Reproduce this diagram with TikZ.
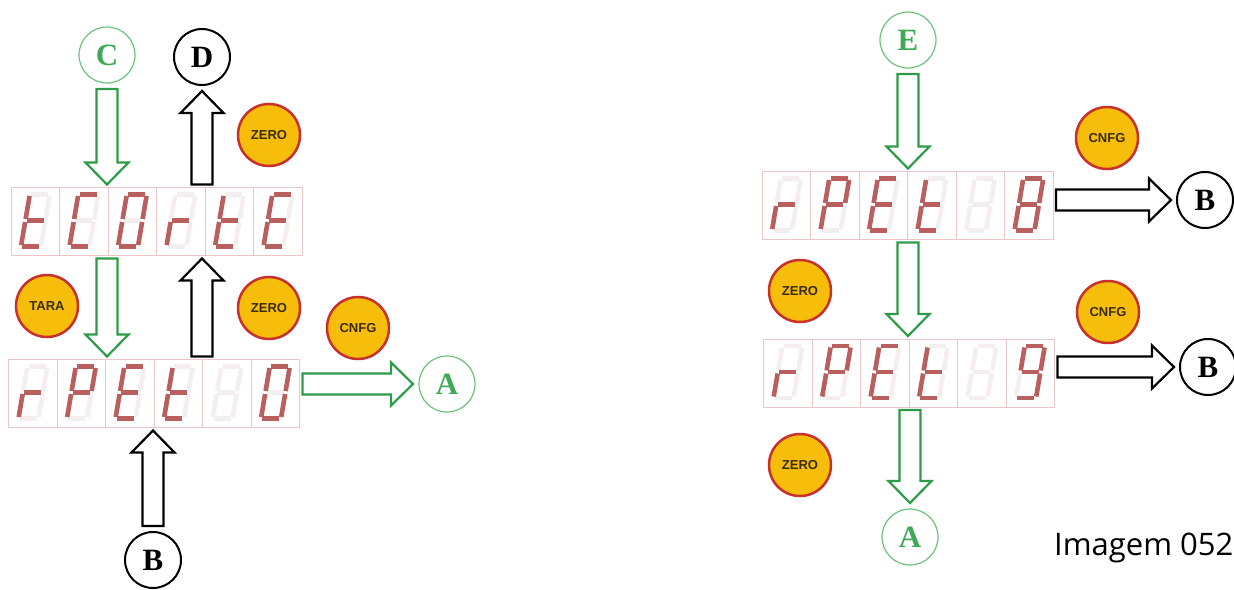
\documentclass[tikz,border=0pt]{standalone}
\usepackage{fontspec}
\usetikzlibrary{calc,positioning}
\newfontfamily\capfont{Open Sans}
\newfontfamily\btnfont{Liberation Sans}
\newfontfamily\letfont{Liberation Serif}
\definecolor{arrowgreen}{HTML}{2E9B48}
\definecolor{ringgreen}{HTML}{6CC27C}
\definecolor{lettergreen}{HTML}{3FA957}
\definecolor{segon}{HTML}{B9605F}
\definecolor{segoff}{HTML}{F5EEEE}
\definecolor{cellline}{HTML}{EBC6C6}
\definecolor{displine}{HTML}{E2AFAF}
\definecolor{btnfill}{HTML}{F6BD0A}
\definecolor{btnring}{HTML}{C8302C}
\definecolor{btntext}{HTML}{3A2C05}
\tikzset{
  display/.style={rectangle, draw=displine, line width=1pt,
    minimum width=291pt, minimum height=68pt, inner sep=0pt, outer sep=0pt},
  keybtn/.style={circle, draw=btnring, fill=btnfill, line width=2.5pt,
    minimum size=62pt, inner sep=0pt, text=btntext,
    font=\btnfont\bfseries\fontsize{13}{13}\selectfont},
  refcirc/.style={circle, draw=#1, line width=2pt, minimum size=56pt,
    inner sep=0pt, outer sep=3pt, text=#1,
    font=\letfont\bfseries\fontsize{31}{31}\selectfont},
  refcirc/.default=black,
  refgreen/.style={refcirc=ringgreen, line width=1.2pt, text=lettergreen},
  blockarrow/.style={draw=#1, fill=white, line width=2.2pt, line join=miter,
    to path={
      ($(\tikztostart)!3pt!(\tikztotarget)$) coordinate (bs)
      ($(\tikztotarget)!3pt!(\tikztostart)$) coordinate (bt)
      ($(bs)!10.5pt!90:(bt)$) -- ($(bt)!22pt!(bs)!10.5pt!90:(bt)$)
      -- ($(bt)!22pt!(bs)!21.5pt!90:(bt)$) -- (bt)
      -- ($(bt)!22pt!(bs)!21.5pt!-90:(bt)$) -- ($(bt)!22pt!(bs)!10.5pt!-90:(bt)$)
      -- ($(bs)!10.5pt!-90:(bt)$) -- cycle}},
  blockarrow/.default=black,
  % seven segment parts, cell 48.5 x 68
  seg a/.style={insert path={(21.5,7)--(38.5,7)}},
  seg b/.style={insert path={(40,8.5)--(40,31.5)}},
  seg c/.style={insert path={(40,34.5)--(40,57.5)}},
  seg d/.style={insert path={(21.5,59)--(38.5,59)}},
  seg e/.style={insert path={(20,34.5)--(20,57.5)}},
  seg f/.style={insert path={(20,8.5)--(20,31.5)}},
  seg g/.style={insert path={(21.5,33)--(38.5,33)}},
  seg none/.style={},
  seglit/.style={draw=segon, line width=4.6pt, line cap=butt},
  segdim/.style={draw=segoff, line width=4.6pt, line cap=butt},
  pics/segdigit/.style={code={
    \draw[cellline, line width=0.6pt] (0,0) rectangle (48.5,68);
    \begin{scope}[xslant=0.17]
      \foreach \s in {a,b,c,d,e,f,g} \path[segdim, seg \s];
      \edef\litlist{#1}
      \foreach \s in \litlist \path[seglit, seg \s];
    \end{scope}}},
}

\begin{document}
\begin{tikzpicture}[x=1pt, y=-1pt]
\useasboundingbox (0,0) rectangle (1234,589);
% left side
\node[display] (tcorte) at (156.5,221.5) {};
\node[display] (rpet0) at (154,393.5) {};
\node[refgreen] (C1) at (107,55) {C};
\node[refcirc] (D1) at (202,57) {D};
\node[keybtn] (zero1) at (269,135) {ZERO};
\node[keybtn] (tara) at (47,306) {TARA};
\node[keybtn] (zero2) at (269,308) {ZERO};
\node[keybtn] (cnfg1) at (358,328) {CNFG};
\node[refgreen] (A1) at (447,384) {A};
\node[refcirc] (B1) at (153,560) {B};
% right side
\node[display] (rpet8) at (907.5,205.5) {};
\node[display] (rpet9) at (909,373) {};
\node[refgreen] (E1) at (908,40) {E};
\node[keybtn] (cnfg2) at (1107,138) {CNFG};
\node[refcirc] (B2) at (1205,200) {B};
\node[keybtn] (zero3) at (800,291) {ZERO};
\node[keybtn] (cnfg3) at (1108,312) {CNFG};
\node[refcirc] (B3) at (1208,367) {B};
\node[keybtn] (zero4) at (800,465) {ZERO};
\node[refgreen] (A2) at (910,537) {A};
\node[font=\capfont\fontsize{31}{31}\selectfont, anchor=base west, inner sep=0pt] (caption) at (1054,555) {Imagem 052};

% display digits
\foreach \d [count=\i from 0] in {{d,e,f,g},{a,d,e,f},{a,b,c,d,e,f},{e,g},{d,e,f,g},{a,d,e,f,g}}
  \pic at ($(tcorte.north west)+(\i*48.5,0)$) {segdigit=\d};
\foreach \d [count=\i from 0] in {{e,g},{a,b,e,f,g},{a,d,e,f,g},{d,e,f,g},{none},{a,b,c,d,e,f}}
  \pic at ($(rpet0.north west)+(\i*48.5,0)$) {segdigit=\d};
\foreach \d [count=\i from 0] in {{e,g},{a,b,e,f,g},{a,d,e,f,g},{d,e,f,g},{none},{a,b,c,d,e,f,g}}
  \pic at ($(rpet8.north west)+(\i*48.5,0)$) {segdigit=\d};
\foreach \d [count=\i from 0] in {{e,g},{a,b,e,f,g},{a,d,e,f,g},{d,e,f,g},{none},{a,b,c,d,f,g}}
  \pic at ($(rpet9.north west)+(\i*48.5,0)$) {segdigit=\d};

% flow arrows
\draw[blockarrow=arrowgreen] (C1.south) to (tcorte.north -| C1);
\draw[blockarrow] (tcorte.north -| D1) to (D1.south);
\draw[blockarrow=arrowgreen] (tcorte.south -| C1) to (rpet0.north -| C1);
\draw[blockarrow] (rpet0.north -| D1) to (tcorte.south -| D1);
\draw[blockarrow=arrowgreen] (rpet0.east |- A1) to (A1.west);
\draw[blockarrow] (B1.north) to (rpet0.south -| B1);
\draw[blockarrow=arrowgreen] (E1.south) to (rpet8.north -| E1);
\draw[blockarrow] (rpet8.east |- B2) to (B2.west);
\draw[blockarrow=arrowgreen] (rpet8.south -| E1) to (rpet9.north -| E1);
\draw[blockarrow] (rpet9.east |- B3) to (B3.west);
\draw[blockarrow=arrowgreen] (rpet9.south -| A2) to (A2.north);
\end{tikzpicture}
\end{document}
